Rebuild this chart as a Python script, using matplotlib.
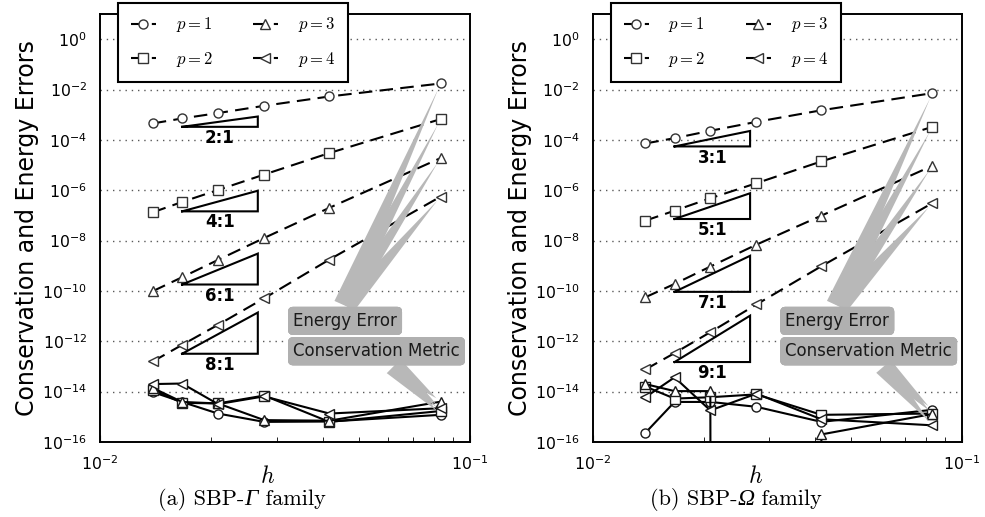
import numpy as np
import matplotlib
matplotlib.use('Agg')
import matplotlib.pyplot as plt
from matplotlib.ticker import NullLocator, LogLocator, NullFormatter

plt.rcParams['font.family'] = ['DejaVu Sans']
plt.rcParams['mathtext.fontset'] = 'cm'

# ---------------- data ----------------
h = [1/72, 1/60, 1/48, 1/36, 1/24, 1/12]
labels = [r'$p=1$', r'$p=2$', r'$p=3$', r'$p=4$']

# SBP-Gamma family
gamma_energy_p1 = [4.5e-4, 7.1e-4, 1.16e-3, 2.26e-3, 5.3e-3, 1.74e-2]
gamma_energy_p2 = [1.33e-7, 3.42e-7, 1.02e-6, 4.2e-6, 3.0e-5, 6.7e-4]
gamma_energy_p3 = [9.8e-11, 3.5e-10, 1.7e-9, 1.27e-8, 2.0e-7, 1.9e-5]
gamma_energy_p4 = [1.58e-13, 7.2e-13, 4.5e-12, 5.1e-11, 1.76e-9, 5.6e-7]
gamma_cons_p1 = [9.6e-15, 3.9e-15, 1.35e-15, 6.3e-16, 6.5e-16, 1.2e-15]
gamma_cons_p2 = [1.2e-14, 3.6e-15, 3.4e-15, 7.0e-15, 6.3e-16, 1.7e-15]
gamma_cons_p3 = [1.4e-14, 3.9e-15, 3.4e-15, 7.4e-16, 7.0e-16, 4.0e-15]
gamma_cons_p4 = [2.0e-14, 2.1e-14, 3.2e-15, 6.5e-15, 1.35e-15, 2.2e-15]

# SBP-Omega family
omega_energy_p1 = [7.2e-5, 1.17e-4, 2.3e-4, 5.2e-4, 1.5e-3, 7.2e-3]
omega_energy_p2 = [6.2e-8, 1.54e-7, 4.8e-7, 1.9e-6, 1.4e-5, 3.3e-4]
omega_energy_p3 = [5.6e-11, 1.9e-10, 9.3e-10, 6.9e-9, 9.8e-8, 9.4e-6]
omega_energy_p4 = [7.6e-14, 3.4e-13, 2.3e-12, 2.9e-11, 9.6e-10, 3.1e-7]
omega_cons_p1 = [2.3e-16, 3.9e-15, 3.9e-15, 2.5e-15, 6.3e-16, 1.9e-15]
omega_cons_p2 = [1.6e-14, 5.3e-15, 6.0e-15, 7.8e-15, 1.2e-15, 1.35e-15]
omega_cons_p3 = [2.0e-14, 1.05e-14, 1.05e-14, 0.0, 2.0e-16, 1.3e-15]
omega_cons_p4 = [6.0e-15, 3.7e-14, 1.8e-15, 8.3e-15, 8.0e-16, 4.6e-16]

# slope triangles (base from h_left to h_right at given base value)
tri_h_left = 1/60
tri_h_right = 0.0267
gamma_tri_base = [3.3e-4, 1.45e-7, 1.8e-10, 3.2e-13]
gamma_slopes = [2, 4, 6, 8]
omega_tri_base = [5.5e-5, 7.2e-8, 9.2e-11, 1.5e-13]
omega_slopes = [3, 5, 7, 9]

markers = ['o', 's', '^', '<']

W, H = 985, 517
fig = plt.figure(figsize=(W/100, H/100), dpi=100)


def px(x0, y0, w, hh):
    return [x0/W, 1 - (y0 + hh)/H, w/W, hh/H]


captions = []


def panel(ax, energy, cons, tri_base, slopes, leg_left, ylabel_x, h_x, cap_x,
          cap_parts):
    lines = []
    for p in range(4):
        ln, = ax.plot(h, energy[p], color='k', lw=1.5, ls=(0, (6.5, 3.5)),
                      marker=markers[p], ms=6.5, mfc='w', mec='0.2', mew=1,
                      zorder=3)
        lines.append(ln)
    for p in range(4):
        ax.plot(h, cons[p], color='k', lw=1.5, ls='-',
                marker=markers[p], ms=6.5, mfc='w', mec='0.1', mew=1, zorder=3)

    # slope triangles
    for yb, s in zip(tri_base, slopes):
        ytop = yb * (tri_h_right / tri_h_left) ** s
        ax.plot([tri_h_left, tri_h_right, tri_h_right, tri_h_left],
                [yb, yb, ytop, yb], color='k', lw=1.5, solid_joinstyle='miter',
                zorder=3)
        ax.annotate(f'{s}:1', xy=(np.sqrt(tri_h_left*tri_h_right), yb),
                    xytext=(0, -8), textcoords='offset points',
                    ha='center', va='center', fontsize=12, fontweight='bold')

    ax.set_xscale('log')
    ax.set_yscale('log')
    ax.set_xlim(1e-2, 1e-1)
    ax.set_ylim(1e-16, 1e1)
    ax.set_yticks(10.0 ** np.arange(-16, 1, 2))
    ax.yaxis.set_minor_locator(NullLocator())
    ax.xaxis.set_minor_locator(LogLocator(base=10, subs=np.arange(2, 10)))
    ax.xaxis.set_minor_formatter(NullFormatter())
    ax.tick_params(which='both', direction='in', labelsize=11.3)
    ax.tick_params(axis='y', which='major', length=0, pad=9.5)
    ax.tick_params(axis='x', which='major', length=5, pad=9)
    ax.tick_params(axis='x', which='minor', length=3.5)
    ax.grid(axis='y', which='major', color='0.35', ls=(0, (1, 3.5)), lw=1)
    for sp in ax.spines.values():
        sp.set_linewidth(1.4)

    # annotations
    for p in range(4):
        ax.annotate('Energy Error', xy=(h[-1], energy[p][-1]),
                    xytext=(0.522, 0.283), textcoords='axes fraction',
                    ha='left', va='center', fontsize=12, color='0.1',
                    bbox=dict(boxstyle='round,pad=0.3', fc='0.69', ec='none'),
                    arrowprops=dict(arrowstyle='wedge,tail_width=1.0',
                                    fc='0.72', ec='none', shrinkB=4,
                                    relpos=(0.4, 0.5)),
                    zorder=4)
    for p in range(4):
        ax.annotate('Conservation Metric', xy=(h[-1], cons[p][-1]),
                    xytext=(0.522, 0.212), textcoords='axes fraction',
                    ha='left', va='center', fontsize=12, color='0.1',
                    bbox=dict(boxstyle='round,pad=0.3', fc='0.69', ec='none'),
                    arrowprops=dict(arrowstyle='wedge,tail_width=1.0',
                                    fc='0.72', ec='none', shrinkB=4),
                    zorder=4)

    leg = ax.legend(lines, labels, ncol=2, loc='upper left',
                    bbox_to_anchor=(leg_left/W, 1 - 3/H),
                    bbox_transform=fig.transFigure, borderaxespad=0,
                    fontsize=12, handlelength=1.5, handletextpad=1.2,
                    columnspacing=2.4, labelspacing=0.95, borderpad=0.75,
                    fancybox=False, edgecolor='k', framealpha=1)
    leg.get_frame().set_linewidth(1.5)
    leg.set_zorder(6)

    fig.text(ylabel_x/W, 1 - 228/H, 'Conservation and Energy Errors',
             rotation=90, ha='center', va='center', fontsize=17)
    fig.text(h_x/W, 1 - 476/H, r'$h$', ha='center', va='center', fontsize=17)

    yb = 1 - 505/H
    t1 = fig.text(0, yb, cap_parts[0], family='cmr10', fontsize=16,
                  ha='left', va='baseline')
    t2 = fig.text(0, yb, cap_parts[1], family='Liberation Serif',
                  style='italic', fontsize=17, ha='left', va='baseline')
    t3 = fig.text(0, yb, cap_parts[2], family='cmr10', fontsize=16,
                  ha='left', va='baseline')
    captions.append((cap_x, [t1, t2, t3]))


ax1 = fig.add_axes(px(100, 14, 370, 428))
panel(ax1,
      [gamma_energy_p1, gamma_energy_p2, gamma_energy_p3, gamma_energy_p4],
      [gamma_cons_p1, gamma_cons_p2, gamma_cons_p3, gamma_cons_p4],
      gamma_tri_base, gamma_slopes, 118, 27, 268, 242,
      ['(a) SBP-', '\u0393', ' family'])

ax2 = fig.add_axes(px(592.7, 14, 369, 428))
panel(ax2,
      [omega_energy_p1, omega_energy_p2, omega_energy_p3, omega_energy_p4],
      [omega_cons_p1, omega_cons_p2, omega_cons_p3, omega_cons_p4],
      omega_tri_base, omega_slopes, 611, 520, 756, 736,
      ['(b) SBP-', '\u03a9', ' family'])

# lay out caption pieces side by side, centred
fig.canvas.draw()
r = fig.canvas.get_renderer()
for cx, parts in captions:
    widths = [t.get_window_extent(r).width for t in parts]
    x = cx - sum(widths) / 2
    for t, w in zip(parts, widths):
        t.set_x(x / W)
        x += w

fig.savefig('out.png', dpi=100)
